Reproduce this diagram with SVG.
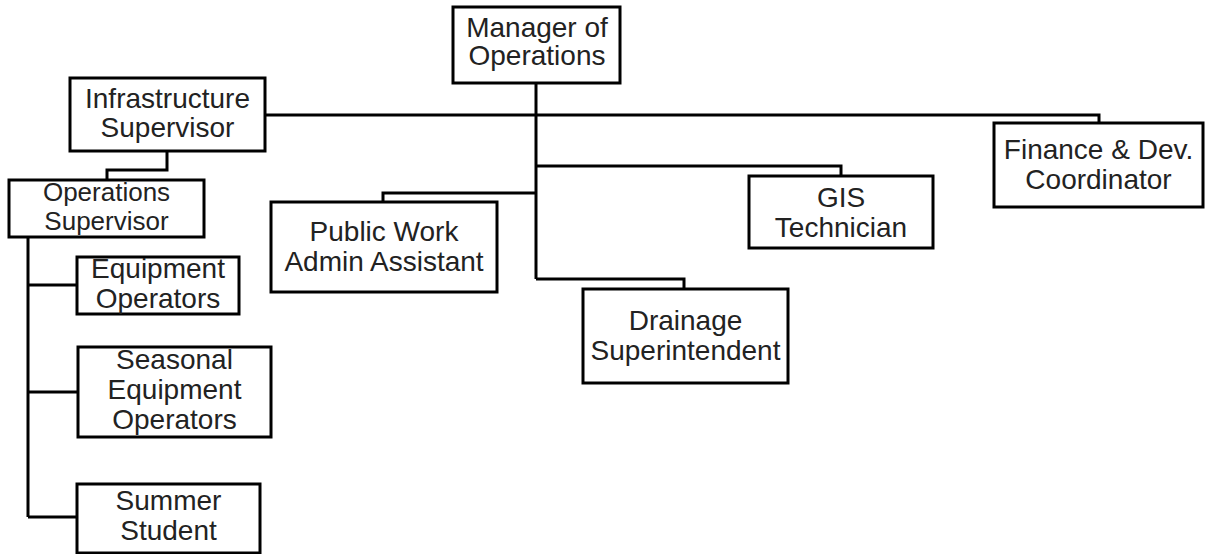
<svg xmlns="http://www.w3.org/2000/svg" width="1207" height="554" viewBox="0 0 1207 554">
<style>
.box{fill:#fff;stroke:#000;stroke-width:3}
.ln{fill:none;stroke:#000;stroke-width:3}
text{font-family:"Liberation Sans",Arial,sans-serif;font-size:28px;fill:#222;text-anchor:middle}
.tight{font-size:26px}
</style>
<rect width="1207" height="554" fill="#fff"/>
<g id="connectors">
<path class="ln" d="M536 83V279"/>
<path class="ln" d="M265 115H1099V123"/>
<path class="ln" d="M536 166H841V176"/>
<path class="ln" d="M536 193H383V202"/>
<path class="ln" d="M536 279H684V289"/>
<path class="ln" d="M167 151V170H107V180"/>
<path class="ln" d="M28 237V517"/>
<path class="ln" d="M28 285H77M28 392H78M28 517H77"/>
</g>
<g id="manager"><rect class="box" x="453" y="7" width="167" height="76"/><text x="537" y="37">Manager of</text><text x="537" y="65">Operations</text></g>
<g id="infrastructure"><rect class="box" x="70" y="78" width="195" height="73"/><text x="167.5" y="108">Infrastructure</text><text x="167.5" y="137">Supervisor</text></g>
<g id="operations"><rect class="box" x="9" y="180" width="195" height="57"/><text class="tight" x="106.5" y="201">Operations</text><text class="tight" x="106.5" y="230">Supervisor</text></g>
<g id="equipment"><rect class="box" x="77" y="257" width="162" height="57"/><text x="158" y="278">Equipment</text><text x="158" y="308">Operators</text></g>
<g id="seasonal"><rect class="box" x="78" y="347" width="193" height="90"/><text x="174.5" y="369">Seasonal</text><text x="174.5" y="399">Equipment</text><text x="174.5" y="429">Operators</text></g>
<g id="summer"><rect class="box" x="77" y="484" width="183" height="69"/><text x="168.5" y="510">Summer</text><text x="168.5" y="540">Student</text></g>
<g id="publicwork"><rect class="box" x="271" y="202" width="226" height="90"/><text x="384" y="241">Public Work</text><text x="384" y="271">Admin Assistant</text></g>
<g id="drainage"><rect class="box" x="583" y="289" width="205" height="94"/><text x="685.5" y="330">Drainage</text><text x="685.5" y="360">Superintendent</text></g>
<g id="gis"><rect class="box" x="749" y="176" width="184" height="72"/><text x="841" y="207">GIS</text><text x="841" y="237">Technician</text></g>
<g id="finance"><rect class="box" x="994" y="123" width="209" height="84"/><text x="1098.5" y="159">Finance &amp; Dev.</text><text x="1098.5" y="189">Coordinator</text></g>
</svg>
